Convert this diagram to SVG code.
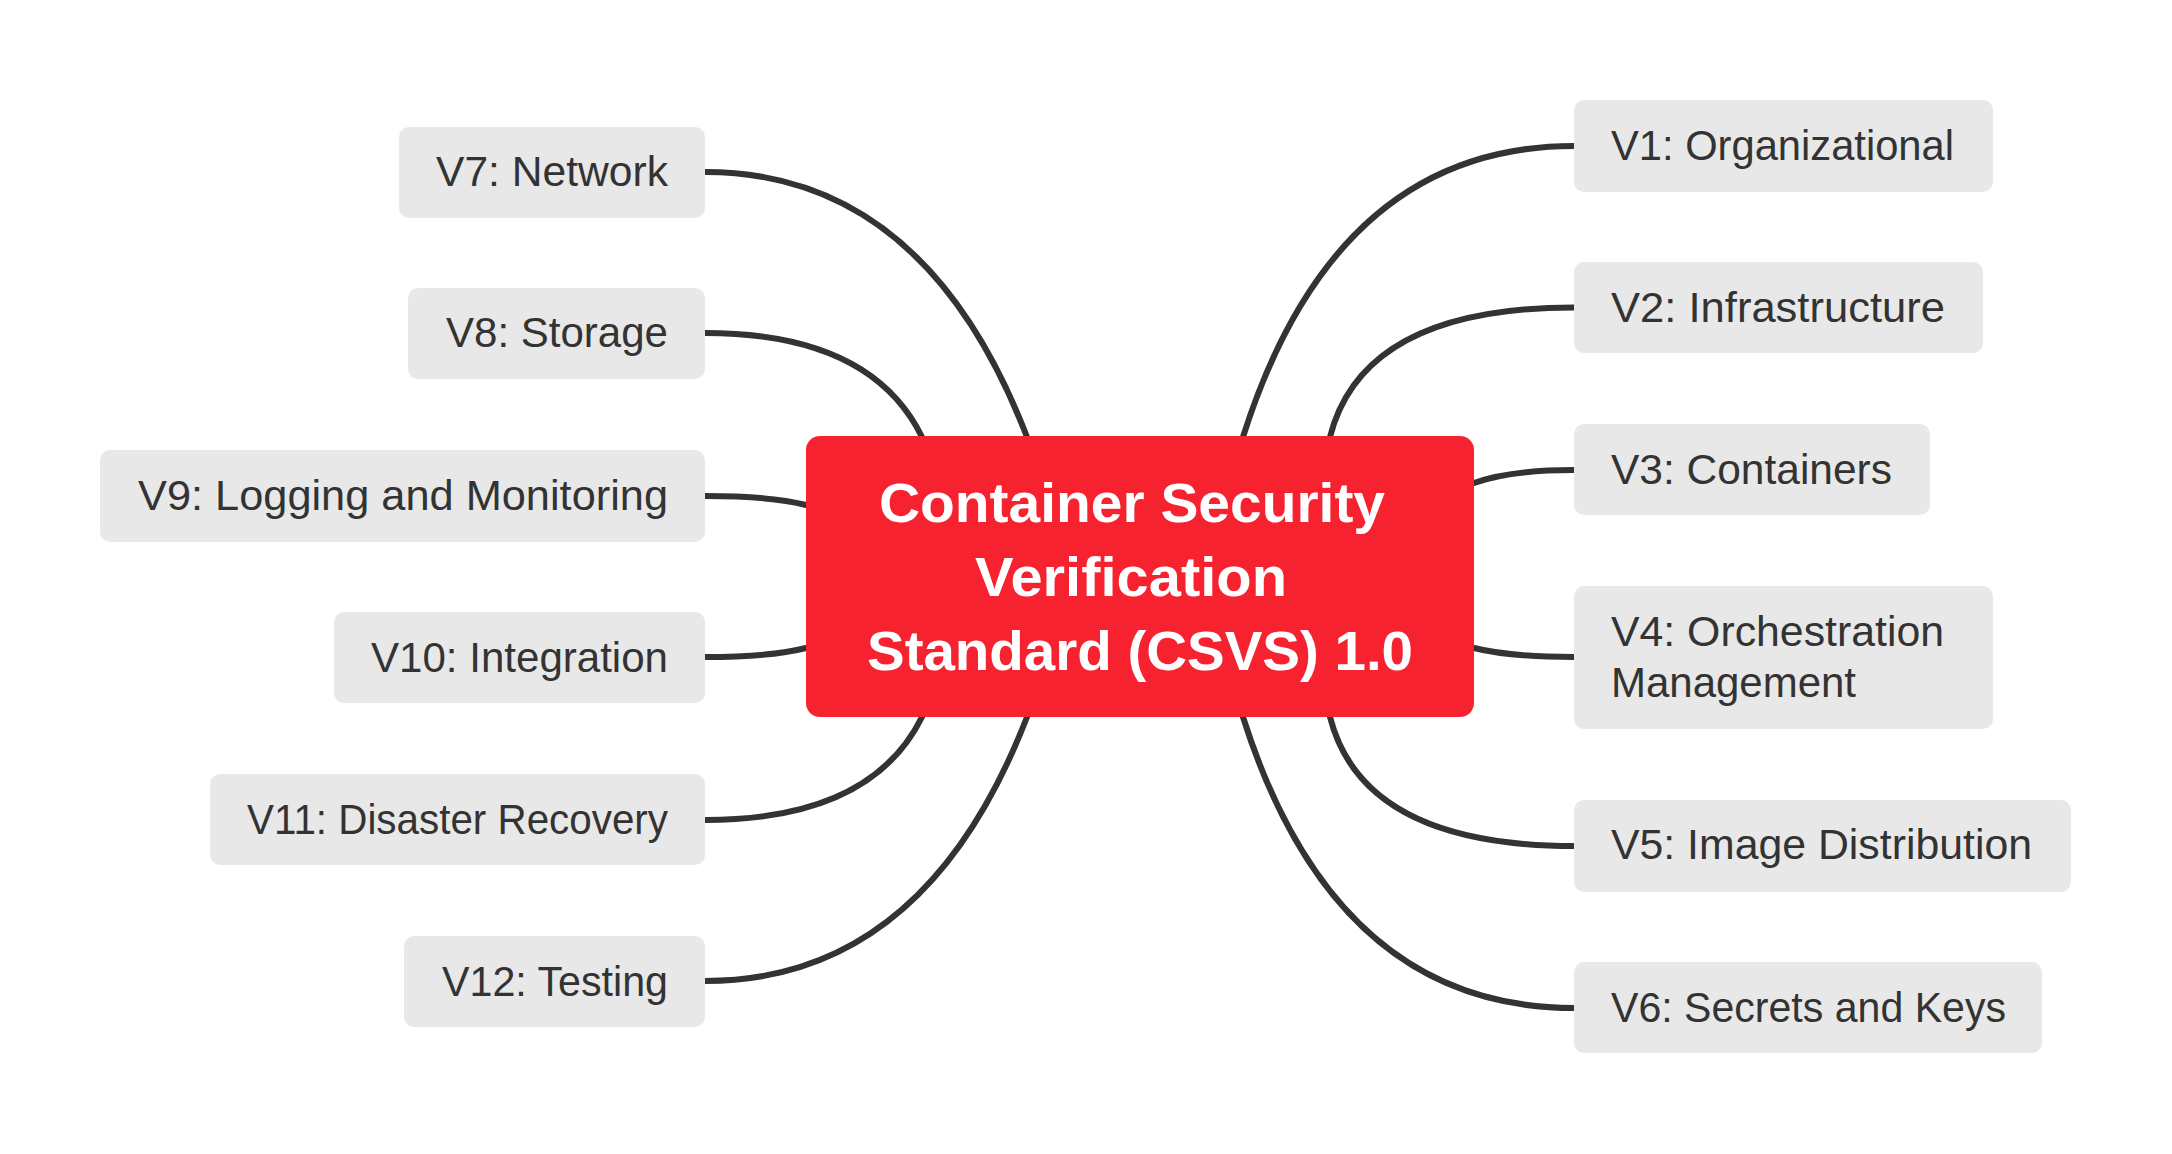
<svg xmlns="http://www.w3.org/2000/svg" width="2172" height="1154" viewBox="0 0 2172 1154">
<style>
.bg{fill:#ffffff}
.edge{fill:none;stroke:#333333;stroke-width:6;stroke-linecap:round}
.child rect{fill:#e8e8e8}
.child text{font-family:"Liberation Sans",Arial,sans-serif;font-size:43px;fill:#333333}
.root rect{fill:#f6222f}
.root text{font-family:"Liberation Sans",Arial,sans-serif;font-size:56px;font-weight:bold;fill:#ffffff;text-anchor:middle}
.l{text-anchor:end}
</style>
<rect class="bg" x="0" y="0" width="2172" height="1154"/>
<g id="connectors">
<path class="edge" d="M705,172 Q925,172 1027,437"/>
<path class="edge" d="M705,333 Q871,333 922,437"/>
<path class="edge" d="M705,496 Q770,496 806,505"/>
<path class="edge" d="M705,657 Q770,657 806,648"/>
<path class="edge" d="M705,820 Q871,820 922,717"/>
<path class="edge" d="M705,981 Q925,981 1027,717"/>
<path class="edge" d="M1574,146 Q1335,146 1243,437"/>
<path class="edge" d="M1574,307.5 Q1363,307.5 1330,437"/>
<path class="edge" d="M1574,470 Q1510,470 1474,483"/>
<path class="edge" d="M1574,657 Q1510,657 1474,648"/>
<path class="edge" d="M1574,846 Q1363,846 1330,717"/>
<path class="edge" d="M1574,1008 Q1335,1008 1243,717"/>
</g>
<g id="root" class="root">
<rect x="806" y="436" width="668" height="281" rx="14"/>
<text x="1132" y="522" textLength="506" lengthAdjust="spacingAndGlyphs">Container Security</text>
<text x="1131" y="596" textLength="312" lengthAdjust="spacingAndGlyphs">Verification</text>
<text x="1140" y="670" textLength="546" lengthAdjust="spacingAndGlyphs">Standard (CSVS) 1.0</text>
</g>
<g id="v1" class="child"><rect x="1574" y="100" width="419" height="92" rx="10"/><text x="1611" y="160" textLength="343" lengthAdjust="spacingAndGlyphs">V1: Organizational</text></g>
<g id="v2" class="child"><rect x="1574" y="262" width="409" height="91" rx="10"/><text x="1611" y="322" textLength="334" lengthAdjust="spacingAndGlyphs">V2: Infrastructure</text></g>
<g id="v3" class="child"><rect x="1574" y="424" width="356" height="91" rx="10"/><text x="1611" y="484" textLength="281" lengthAdjust="spacingAndGlyphs">V3: Containers</text></g>
<g id="v4" class="child"><rect x="1574" y="586" width="419" height="143" rx="10"/><text x="1611" y="646" textLength="333" lengthAdjust="spacingAndGlyphs">V4: Orchestration</text><text x="1611" y="697" textLength="245" lengthAdjust="spacingAndGlyphs">Management</text></g>
<g id="v5" class="child"><rect x="1574" y="800" width="497" height="92" rx="10"/><text x="1611" y="859" textLength="421" lengthAdjust="spacingAndGlyphs">V5: Image Distribution</text></g>
<g id="v6" class="child"><rect x="1574" y="962" width="468" height="91" rx="10"/><text x="1611" y="1022" textLength="395" lengthAdjust="spacingAndGlyphs">V6: Secrets and Keys</text></g>
<g id="v7" class="child"><rect x="399" y="127" width="306" height="91" rx="10"/><text class="l" x="668" y="186" textLength="232" lengthAdjust="spacingAndGlyphs">V7: Network</text></g>
<g id="v8" class="child"><rect x="408" y="288" width="297" height="91" rx="10"/><text class="l" x="668" y="347" textLength="222" lengthAdjust="spacingAndGlyphs">V8: Storage</text></g>
<g id="v9" class="child"><rect x="100" y="450" width="605" height="92" rx="10"/><text class="l" x="668" y="510" textLength="530" lengthAdjust="spacingAndGlyphs">V9: Logging and Monitoring</text></g>
<g id="v10" class="child"><rect x="334" y="612" width="371" height="91" rx="10"/><text class="l" x="668" y="672" textLength="297" lengthAdjust="spacingAndGlyphs">V10: Integration</text></g>
<g id="v11" class="child"><rect x="210" y="774" width="495" height="91" rx="10"/><text class="l" x="668" y="834" textLength="421" lengthAdjust="spacingAndGlyphs">V11: Disaster Recovery</text></g>
<g id="v12" class="child"><rect x="404" y="936" width="301" height="91" rx="10"/><text class="l" x="668" y="996" textLength="226" lengthAdjust="spacingAndGlyphs">V12: Testing</text></g>
</svg>
